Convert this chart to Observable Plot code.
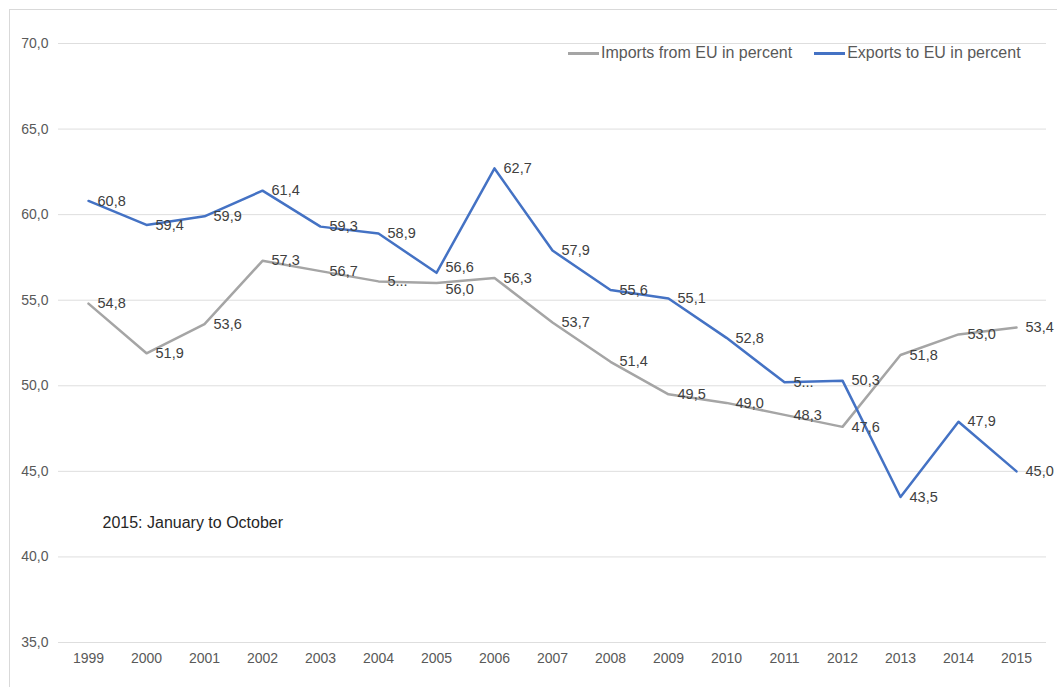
<!DOCTYPE html>
<html>
<head>
<meta charset="utf-8">
<script src="https://cdn.jsdelivr.net/npm/d3@7"></script>
<script src="https://cdn.jsdelivr.net/npm/@observablehq/plot@0.6"></script>
<style>
  html, body { margin: 0; padding: 0; background: #fff; overflow: hidden; }
  body { width: 1057px; height: 687px; position: relative; font-family: "Liberation Sans", Arial, sans-serif; }
  #frame { position: absolute; left: 9px; top: 9px; width: 1100px; height: 700px; border: 1px solid #d9d9d9; box-sizing: border-box; }
  #chart { position: absolute; left: 0; top: 0; }
  #legend { position: absolute; top: 44px; left: 568px; font-size: 16px; color: #595959; display: flex; align-items: center; white-space: nowrap; }
  .sw { display: inline-block; width: 31px; height: 3px; margin-right: 2px; }
  .item { display: flex; align-items: center; margin-right: 22px; }
</style>
</head>
<body>
<div id="frame"></div>
<div id="chart"></div>
<div id="legend"></div>
<script>
const years = ["1999","2000","2001","2002","2003","2004","2005","2006","2007","2008","2009","2010","2011","2012","2013","2014","2015"];
const imports = [54.8, 51.9, 53.6, 57.3, 56.7, 56.1, 56.0, 56.3, 53.7, 51.4, 49.5, 49.0, 48.3, 47.6, 51.8, 53.0, 53.4];
const exports = [60.8, 59.4, 59.9, 61.4, 59.3, 58.9, 56.6, 62.7, 57.9, 55.6, 55.1, 52.8, 50.2, 50.3, 43.5, 47.9, 45.0];
const seriesNames = ["Imports from EU in percent", "Exports to EU in percent"];
const seriesColors = ["#a5a5a5", "#4472c4"];
const truncatedLabels = [["Imports from EU in percent", "2004"], ["Exports to EU in percent", "2011"]];
const yTicks = [35, 40, 45, 50, 55, 60, 65, 70];
const note = "2015: January to October";

const fmt = v => v.toFixed(1).replace(".", ",");
const data = [];
years.forEach((y, i) => {
  data.push({year: y, value: imports[i], series: seriesNames[0]});
  data.push({year: y, value: exports[i], series: seriesNames[1]});
});
data.forEach(d => {
  const t = truncatedLabels.some(([s, y]) => s === d.series && y === d.year);
  d.label = t ? fmt(d.value)[0] + "..." : fmt(d.value);
});

// simple label collision avoidance per year (pixel units: ~17.1 px per unit)
const pxPerUnit = (687 - 43 - 45) / 35;
const minGap = 22;
years.forEach(y => {
  const pair = data.filter(d => d.year === y).sort((a, b) => b.value - a.value);
  pair.forEach(d => d.dy = 0);
  const gap = (pair[0].value - pair[1].value) * pxPerUnit;
  if (gap < minGap) {
    const push = (minGap - gap) / 2;
    pair[0].dy = -push;
    pair[1].dy = push;
  }
});
const labelsUp = data.filter(d => d.dy < 0);
const labelsDown = data.filter(d => d.dy > 0);
const labelsFlat = data.filter(d => d.dy === 0);

const labelOpts = (dy) => ({x: "year", y: "value", text: "label", textAnchor: "start", dx: 9, dy, fontSize: 14.5, fill: "#404040"});

const plot = Plot.plot({
  width: 1057,
  height: 687,
  marginLeft: 58,
  marginRight: 11,
  marginTop: 43,
  marginBottom: 45,
  style: {fontFamily: "Liberation Sans, Arial, sans-serif", fontSize: "14px", background: "transparent"},
  x: {type: "point", domain: years, padding: 0.5},
  y: {domain: [35, 70]},
  color: {domain: seriesNames, range: seriesColors},
  marks: [
    Plot.gridY(yTicks, {stroke: "#dedede", strokeOpacity: 1, strokeWidth: 1}),
    Plot.axisY(yTicks, {tickSize: 0, tickPadding: 10, tickFormat: fmt, fontSize: 14, fill: "#595959", label: null}),
    Plot.axisX({tickSize: 0, tickPadding: 11, fontSize: 14, fill: "#595959", label: null}),
    Plot.lineY(data, {x: "year", y: "value", z: "series", stroke: "series", strokeWidth: 2.5}),
    ...labelsUp.map(d => Plot.text([d], labelOpts(d.dy))),
    ...labelsDown.map(d => Plot.text([d], labelOpts(d.dy))),
    Plot.text(labelsFlat, labelOpts(0)),
    Plot.text([note], {x: () => "1999", y: () => 42, text: d => d, textAnchor: "start", dx: 14, fontSize: 16, fill: "#262626"})
  ]
});
document.getElementById("chart").appendChild(plot);

const legend = document.getElementById("legend");
seriesNames.forEach((n, i) => {
  const item = document.createElement("div");
  item.className = "item";
  item.innerHTML = `<span class="sw" style="background:${seriesColors[i]}"></span><span>${n}</span>`;
  legend.appendChild(item);
});
</script>
</body>
</html>
